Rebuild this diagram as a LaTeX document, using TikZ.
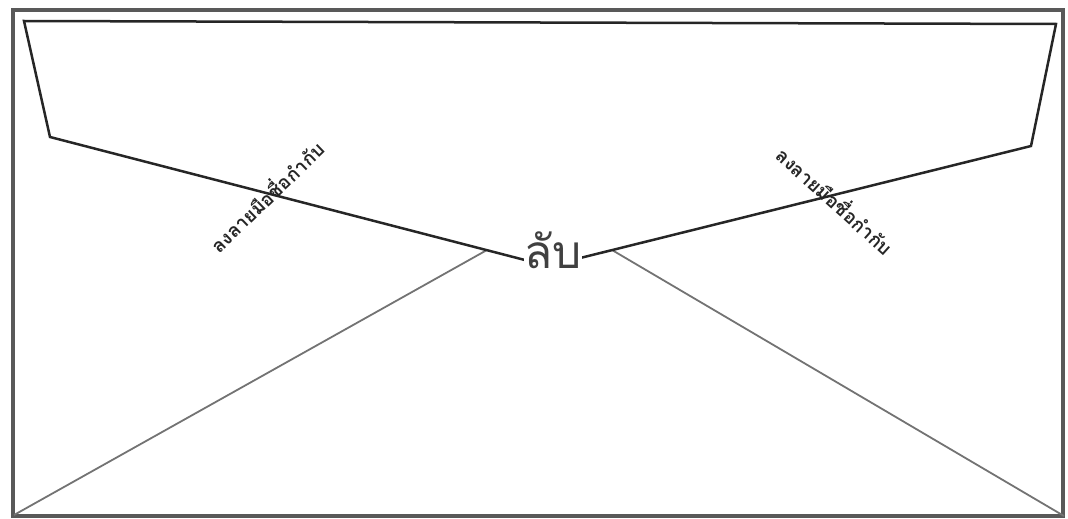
\documentclass[tikz,border=0pt]{standalone}
\usepackage{fontspec}
\newfontfamily\thaifont[Script=Thai]{Loma}
\begin{document}
\begin{tikzpicture}[x=1pt,y=-1pt,
  frame/.style={draw=black!65, line width=3.4pt},
  flap/.style={draw=black!85, line width=2.5pt, line join=miter},
  fold/.style={draw=black!55, line width=1.8pt},
  signlabel/.style={font=\thaifont\bfseries\fontsize{19}{19}\selectfont, text=black!85, inner sep=1pt},
  seallabel/.style={font=\thaifont\fontsize{46}{46}\selectfont, text=black!75, inner sep=0.5pt, fill=white}]
\useasboundingbox (0,0) rectangle (1068,519);
% draw envelope border
\draw[frame] (13,10) rectangle (1063,516);

% corners of the flap and the fold lines
\coordinate (flapTL) at (24,21);
\coordinate (flapTR) at (1056,24);
\coordinate (flapR) at (1031,146);
\coordinate (flapL) at (50,137);
\coordinate (apex) at (548,266);
\coordinate (foldL) at (487,250);
\coordinate (foldR) at (612,250);
\coordinate (cornerBL) at (14,515);
\coordinate (cornerBR) at (1064,516);

% draw fold lines
\draw[fold] (cornerBL) -- (foldL);
\draw[fold] (cornerBR) -- (foldR);
% draw flap
\draw[flap] (flapL) -- (flapTL) -- (flapTR) -- (flapR) -- (apex) -- cycle;

% draw nodes to add texts
\node[signlabel, rotate=44] (signL) at (266,196) {ลงลายมือชื่อกำกับ};
\node[signlabel, rotate=-42] (signR) at (836,200) {ลงลายมือชื่อกำกับ};
\node[seallabel] (seal) at (553,250) {ลับ};
\end{tikzpicture}
\end{document}
